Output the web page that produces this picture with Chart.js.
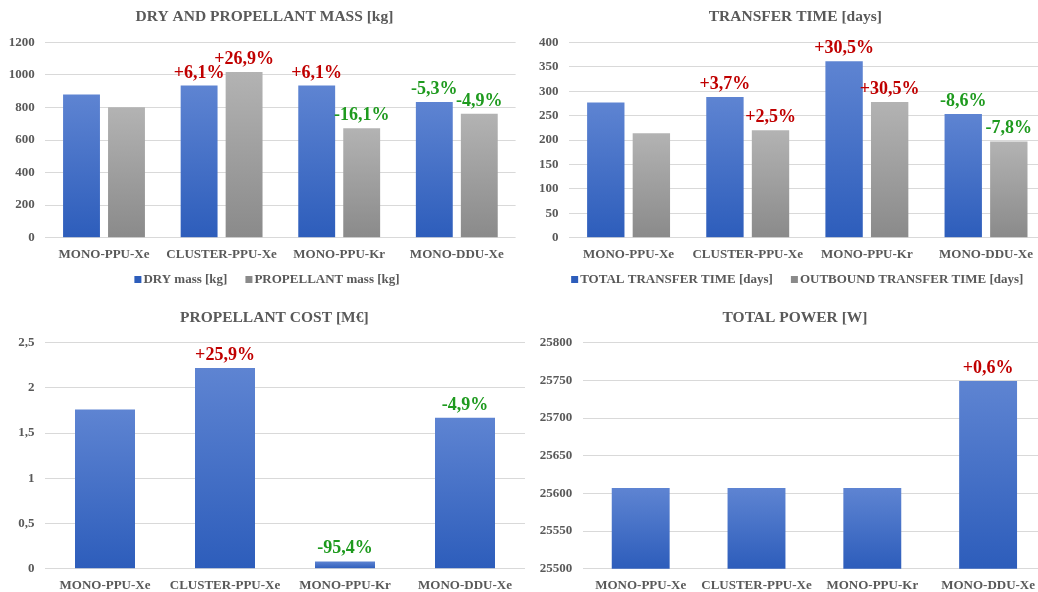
<!DOCTYPE html>
<html>
<head>
<meta charset="utf-8">
<script src="https://cdn.jsdelivr.net/npm/chart.js@4.4.1/dist/chart.umd.min.js"></script>
<style>
    html, body { margin: 0; padding: 0; background: #fff; overflow: hidden; }
    body { width: 1038px; height: 592px; position: relative; }
    canvas { position: absolute; }
</style>
</head>
<body>
<canvas id="massChart" width="519" height="296" style="left:0;top:0"></canvas>
<canvas id="timeChart" width="530" height="296" style="left:519px;top:0"></canvas>
<canvas id="costChart" width="530" height="296" style="left:0;top:296px"></canvas>
<canvas id="powerChart" width="530" height="296" style="left:519px;top:296px"></canvas>
<script>
'use strict';
const categories = ['MONO-PPU-Xe', 'CLUSTER-PPU-Xe', 'MONO-PPU-Kr', 'MONO-DDU-Xe'];

const dryMass = [880, 934, 934, 834];
const propellantMass = [801, 1017, 672, 761];
const dryMassDelta = ['', '+6,1%', '+6,1%', '-5,3%'];
const propellantMassDelta = ['', '+26,9%', '-16,1%', '-4,9%'];
const massTicks = [0, 200, 400, 600, 800, 1000, 1200];

const totalTransfer = [277, 288, 361, 253];
const outboundTransfer = [214, 220, 278, 197];
const totalTransferDelta = ['', '+3,7%', '+30,5%', '-8,6%'];
const outboundTransferDelta = ['', '+2,5%', '+30,5%', '-7,8%'];
const timeTicks = [0, 50, 100, 150, 200, 250, 300, 350, 400];

const propellantCost = [1.76, 2.22, 0.08, 1.67];
const propellantCostDelta = ['', '+25,9%', '-95,4%', '-4,9%'];
const costTicks = [0, 0.5, 1, 1.5, 2, 2.5];

const totalPower = [25607, 25607, 25607, 25749];
const totalPowerDelta = ['', '', '', '+0,6%'];
const powerTicks = [25500, 25550, 25600, 25650, 25700, 25750, 25800];

const FONT = '"Liberation Serif", "Times New Roman", serif';
const GREY_TEXT = '#595959';
const GRID = '#D9D9D9';
const BLUE = ['#5E84D2', '#2D5DBB'];
const SILVER = ['#B3B3B3', '#8A8A8A'];
const RED = '#C00000';
const GREEN = '#1E9A1E';

Chart.defaults.font.family = FONT;
Chart.defaults.font.weight = 'bold';
Chart.defaults.font.size = 13;
Chart.defaults.color = GREY_TEXT;
Chart.defaults.animation = false;

// each bar gets its own light-to-dark gradient, like the office chart
function barFill(colors) {
    return function (ctx) {
        const chart = ctx.chart;
        if (ctx.type !== 'data' || !chart.chartArea) return colors[0];
        const y = chart.scales.y;
        const top = y.getPixelForValue(ctx.raw);
        const bottom = y.getBasePixel();
        if (!isFinite(top) || !isFinite(bottom) || top === bottom) return colors[1];
        const g = chart.ctx.createLinearGradient(0, top, 0, bottom);
        g.addColorStop(0, colors[0]);
        g.addColorStop(1, colors[1]);
        return g;
    };
}

const deltaLabels = {
    id: 'deltaLabels',
    afterDatasetsDraw(chart) {
        const ctx = chart.ctx;
        ctx.save();
        ctx.font = 'bold 18px ' + FONT;
        ctx.textAlign = 'center';
        ctx.textBaseline = 'alphabetic';
        chart.data.datasets.forEach((ds, i) => {
            chart.getDatasetMeta(i).data.forEach((bar, j) => {
                const txt = ds.deltas[j];
                if (!txt) return;
                ctx.fillStyle = txt[0] === '+' ? RED : GREEN;
                ctx.fillText(txt, bar.x, bar.y - 8);
            });
        });
        ctx.restore();
    }
};

const panelText = {
    id: 'panelText',
    afterDraw(chart, args, opts) {
        const ctx = chart.ctx;
        ctx.save();
        ctx.fillStyle = GREY_TEXT;
        ctx.textBaseline = 'middle';
        ctx.textAlign = 'center';
        ctx.font = 'bold 15.5px ' + FONT;
        ctx.fillText(opts.title, opts.titleX, opts.titleY);
        if (opts.legendY) {
            ctx.font = 'bold 13px ' + FONT;
            ctx.textAlign = 'left';
            const items = chart.data.datasets.map(ds => ({ text: ds.label, color: ds.swatch, w: ctx.measureText(ds.label).width }));
            const total = items.reduce((s, it) => s + 9 + it.w, 0) + 18 * (items.length - 1);
            let x = opts.legendX - total / 2;
            items.forEach(it => {
                ctx.fillStyle = it.color;
                ctx.fillRect(x, opts.legendY - 3.5, 7, 7);
                ctx.fillStyle = GREY_TEXT;
                ctx.fillText(it.text, x + 9, opts.legendY);
                x += 9 + it.w + 18;
            });
        }
        ctx.restore();
    }
};

function series(label, data, deltas, colors) {
    return { label: label, data: data, deltas: deltas, swatch: colors[1], backgroundColor: barFill(colors), borderWidth: 0 };
}

function makeChart(id, cfg) {
    return new Chart(document.getElementById(id), {
        type: 'bar',
        data: { labels: categories, datasets: cfg.datasets },
        options: {
            responsive: false,
            layout: { padding: { top: cfg.area.top, right: cfg.area.right, left: 0, bottom: 0 } },
            datasets: { bar: { categoryPercentage: cfg.catPct, barPercentage: cfg.barPct } },
            plugins: {
                legend: { display: false },
                title: { display: false },
                tooltip: { enabled: false },
                panelText: cfg.text
            },
            scales: {
                x: {
                    grid: { display: false },
                    border: { display: false },
                    ticks: { padding: cfg.xPad, maxRotation: 0, autoSkip: false },
                    afterFit: s => { s.height = cfg.area.xHeight; }
                },
                y: {
                    min: cfg.ticks[0],
                    max: cfg.ticks[cfg.ticks.length - 1],
                    grid: { color: GRID, drawTicks: false },
                    border: { display: false },
                    ticks: { padding: 10.5, callback: v => String(v).replace('.', ',') },
                    afterBuildTicks: s => { s.ticks = cfg.ticks.map(v => ({ value: v })); },
                    afterFit: s => { s.width = cfg.area.left; }
                }
            }
        },
        plugins: [deltaLabels, panelText]
    });
}

makeChart('massChart', {
    datasets: [
        series('DRY mass [kg]', dryMass, dryMassDelta, BLUE),
        series('PROPELLANT mass [kg]', propellantMass, propellantMassDelta, SILVER)
    ],
    ticks: massTicks,
    area: { left: 45.2, right: 3.4, top: 42.3, xHeight: 58.3 },
    catPct: 0.765, barPct: 0.82, xPad: 1.1,
    text: { title: 'DRY AND PROPELLANT MASS [kg]', titleX: 264.5, titleY: 16.7, legendX: 267, legendY: 279.5 }
});

makeChart('timeChart', {
    datasets: [
        series('TOTAL TRANSFER TIME [days]', totalTransfer, totalTransferDelta, BLUE),
        series('OUTBOUND TRANSFER TIME [days]', outboundTransfer, outboundTransferDelta, SILVER)
    ],
    ticks: timeTicks,
    area: { left: 50, right: 3.4, top: 42.3, xHeight: 58.3 },
    catPct: 0.765, barPct: 0.82, xPad: 1.1,
    text: { title: 'TRANSFER TIME [days]', titleX: 276.3, titleY: 16.7, legendX: 278.3, legendY: 279.5 }
});

makeChart('costChart', {
    datasets: [series('PROPELLANT COST [M€]', propellantCost, propellantCostDelta, BLUE)],
    ticks: costTicks,
    area: { left: 45, right: 5, top: 46.7, xHeight: 23.3 },
    catPct: 1, barPct: 0.5, xPad: 1,
    text: { title: 'PROPELLANT COST [M€]', titleX: 274.3, titleY: 21.7 }
});

makeChart('powerChart', {
    datasets: [series('TOTAL POWER [W]', totalPower, totalPowerDelta, BLUE)],
    ticks: powerTicks,
    area: { left: 63.8, right: 3, top: 46.7, xHeight: 23.3 },
    catPct: 1, barPct: 0.5, xPad: 1,
    text: { title: 'TOTAL POWER [W]', titleX: 276, titleY: 21.7 }
});
</script>
</body>
</html>
